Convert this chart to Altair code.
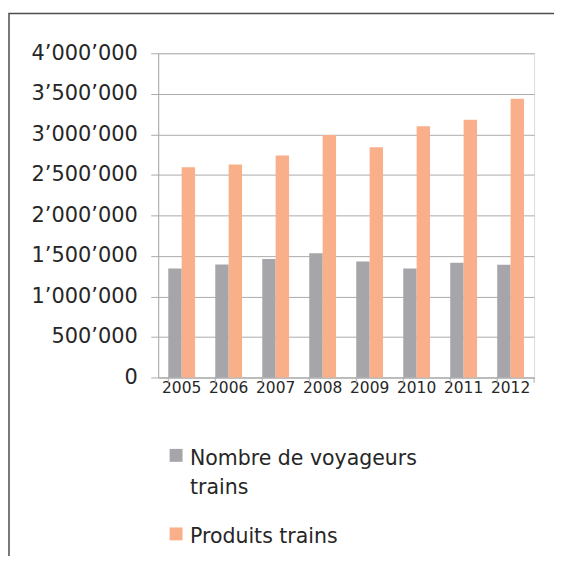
import altair as alt
import pandas as pd

years = ["2005", "2006", "2007", "2008", "2009", "2010", "2011", "2012"]
voyageurs = [1344000, 1393000, 1463000, 1533000, 1430000, 1344000, 1414000, 1390000]
produits = [2594000, 2628000, 2740000, 2990000, 2840000, 3100000, 3180000, 3440000]
series = ["Nombre de voyageurs trains", "Produits trains"]
colors = ["#A6A6AA", "#F9AF8A"]
y_ticks = [0, 500000, 1000000, 1500000, 2000000, 2500000, 3000000, 3500000, 4000000]

rows = []
for i, yr in enumerate(years):
    rows.append({"year": yr, "series": series[0], "value": voyageurs[i]})
    rows.append({"year": yr, "series": series[1], "value": produits[i]})
df = pd.DataFrame(rows)
df_years = pd.DataFrame({"year": years})
one = pd.DataFrame({"k": [0]})

W, H = 378, 326
FONT = "DejaVu Sans"
TXT = "#262626"
GRID = "#ABABAB"

label_expr = "replace(format(datum.value, ','), regexp(',', 'g'), '\u2019')"

bars = alt.Chart(df).mark_bar().encode(
    x=alt.X("year:N", sort=years,
            scale=alt.Scale(paddingInner=0.43, paddingOuter=0.215),
            axis=alt.Axis(title=None, labelAngle=0, ticks=False, domainColor=GRID,
                          labelFont=FONT, labelFontSize=15.5, labelColor=TXT,
                          labelPadding=3)),
    xOffset=alt.XOffset("series:N", sort=series,
                        scale=alt.Scale(paddingInner=0, paddingOuter=0)),
    y=alt.Y("value:Q", scale=alt.Scale(domain=[0, 4000000]),
            axis=alt.Axis(values=y_ticks, title=None, labelExpr=label_expr,
                          labelFont=FONT, labelFontSize=21, labelColor=TXT,
                          tickSize=7.5, tickColor=GRID, gridColor=GRID,
                          domainColor=GRID, labelPadding=13.5)),
    color=alt.Color("series:N", sort=series,
                    scale=alt.Scale(domain=series, range=colors), legend=None),
)

xticks = alt.Chart(df_years).mark_rule(color=GRID, strokeWidth=1).encode(
    x=alt.X("year:N", sort=years, bandPosition=0),
    y=alt.value(H), y2=alt.value(H + 5.5),
)
last_tick = alt.Chart(one).mark_rule(color=GRID, strokeWidth=1).encode(
    x=alt.value(W), y=alt.value(H), y2=alt.value(H + 5.5),
)

border = alt.Chart(one).mark_rect(fill="white", fillOpacity=0, stroke="#4d4d4d",
                                  strokeWidth=1.5).encode(
    x=alt.value(-150), x2=alt.value(800), y=alt.value(-40), y2=alt.value(800),
)

leg_sq1 = alt.Chart(one).mark_square(size=169, color=colors[0], opacity=1).encode(
    x=alt.value(18), y=alt.value(404.3))
leg_sq2 = alt.Chart(one).mark_square(size=169, color=colors[1], opacity=1).encode(
    x=alt.value(18), y=alt.value(483.3))
leg_t1 = alt.Chart(one).mark_text(align="left", baseline="alphabetic", font=FONT,
                                  fontSize=20.6, color=TXT, lineHeight=29.3).encode(
    x=alt.value(32), y=alt.value(413.7),
    text=alt.value(["Nombre de voyageurs", "trains"]))
leg_t2 = alt.Chart(one).mark_text(align="left", baseline="alphabetic", font=FONT,
                                  fontSize=20.6, color=TXT).encode(
    x=alt.value(32), y=alt.value(492),
    text=alt.value(series[1]))

chart = alt.layer(border, bars, xticks, last_tick, leg_sq1, leg_sq2, leg_t1, leg_t2).properties(
    width=W, height=H,
    autosize=alt.AutoSizeParams(type="none"),
    padding={"left": 151, "top": 44, "right": 20, "bottom": 178},
).configure_view(stroke=None).configure(background="white")

chart.save("out.html", embed_options={"renderer": "svg", "actions": False})
